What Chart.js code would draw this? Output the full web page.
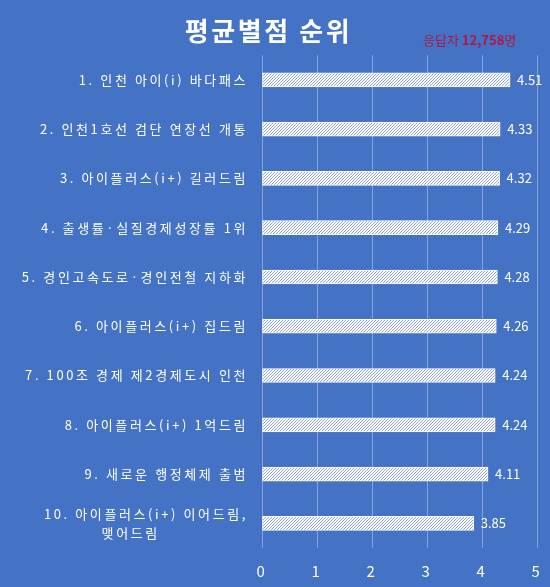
<!DOCTYPE html>
<html>
<head>
<meta charset="utf-8">
<script src="https://cdn.jsdelivr.net/npm/chart.js@4"></script>
<style>
  html, body { margin: 0; padding: 0; background: #4472C4; }
  #wrap { width: 550px; height: 587px; position: relative; }
</style>
</head>
<body>
<div id="wrap"><canvas id="rankChart"></canvas></div>
<script>
const categories = [
    '1. 인천 아이(i) 바다패스',
    '2. 인천1호선 검단 연장선 개통',
    '3. 아이플러스(i+) 길러드림',
    '4. 출생률·실질경제성장률 1위',
    '5. 경인고속도로·경인전철 지하화',
    '6. 아이플러스(i+) 집드림',
    '7. 100조 경제 제2경제도시 인천',
    '8. 아이플러스(i+) 1억드림',
    '9. 새로운 행정체제 출범',
    ['10. 아이플러스(i+) 이어드림,', '맺어드림                ']
];
const scores = [4.51, 4.33, 4.32, 4.29, 4.28, 4.26, 4.24, 4.24, 4.11, 3.85];
const xTicks = [0, 1, 2, 3, 4, 5];
const titleText = '평균별점 순위';
const respondents = ['응답자 ', '12,758', '명'];

const FONT = "'Noto Sans CJK KR', 'Noto Sans', sans-serif";

// hatched fill for the bars
function makeHatch() {
    const c = document.createElement('canvas');
    c.width = 3; c.height = 3;
    const g = c.getContext('2d');
    g.fillStyle = '#ffffff';
    g.fillRect(0, 0, 3, 3);
    g.fillStyle = '#8ea3d2';
    for (let i = 0; i < 3; i++) g.fillRect(i, 2 - i, 1, 1);
    return g.createPattern(c, 'repeat');
}

const spacing = {
    id: 'spacing',
    beforeLayout(chart) { chart.ctx.letterSpacing = '2.6px'; },
    beforeDraw(chart) { chart.ctx.letterSpacing = '2.6px'; }
};

const extras = {
    id: 'extras',
    afterDatasetsDraw(chart) {
        const ctx = chart.ctx;
        ctx.save();
        ctx.letterSpacing = '0px';
        ctx.fillStyle = '#ffffff';
        ctx.font = '13px ' + FONT;
        ctx.textBaseline = 'middle';
        ctx.textAlign = 'left';
        chart.getDatasetMeta(0).data.forEach((bar, i) => {
            ctx.fillText(scores[i].toFixed(2), bar.x + 7, bar.y);
        });
        // respondent count
        let x = 423;
        const y = 40;
        ctx.fillStyle = '#b3173f';
        respondents.forEach((t, i) => {
            ctx.font = (i === 1 ? 'bold ' : '') + '13px ' + FONT;
            ctx.fillText(t, x, y);
            x += ctx.measureText(t).width;
        });
        ctx.restore();
    }
};

const ctx = document.querySelector('#rankChart').getContext('2d');

new Chart(ctx, {
    type: 'bar',
    data: {
        labels: categories,
        datasets: [{
            data: scores,
            backgroundColor: makeHatch(),
            borderColor: '#ffffff',
            borderWidth: 1,
            borderSkipped: false,
            barThickness: 14
        }]
    },
    options: {
        indexAxis: 'y',
        responsive: true,
        maintainAspectRatio: false,
        animation: false,
        layout: { padding: { left: 0, right: 13, bottom: 0 } },
        scales: {
            x: {
                min: 0,
                max: 5,
                afterBuildTicks(scale) { scale.ticks = xTicks.map(v => ({ value: v })); },
                afterFit(scale) {
                    scale.height = 39;
                    scale.paddingLeft = 0;
                    scale.paddingRight = 0;
                },
                ticks: { color: '#ffffff', font: { family: FONT, size: 15 }, padding: 14 },
                grid: { color: 'rgba(255, 255, 255, 0.35)', drawTicks: false, tickLength: 0 },
                border: { display: false }
            },
            y: {
                afterFit(scale) {
                    scale.width = 262;
                    scale.paddingTop = 0;
                    scale.paddingBottom = 0;
                },
                ticks: { color: '#ffffff', font: { family: FONT, size: 13, lineHeight: 1.45 }, padding: 14 },
                grid: { display: false, drawTicks: false },
                border: { display: false }
            }
        },
        plugins: {
            legend: { display: false },
            tooltip: { enabled: false },
            title: {
                display: true,
                text: titleText,
                color: '#ffffff',
                font: { family: FONT, size: 26, weight: 'bold' },
                padding: { top: 16, bottom: 8 }
            }
        }
    },
    plugins: [spacing, extras]
});
</script>
</body>
</html>
